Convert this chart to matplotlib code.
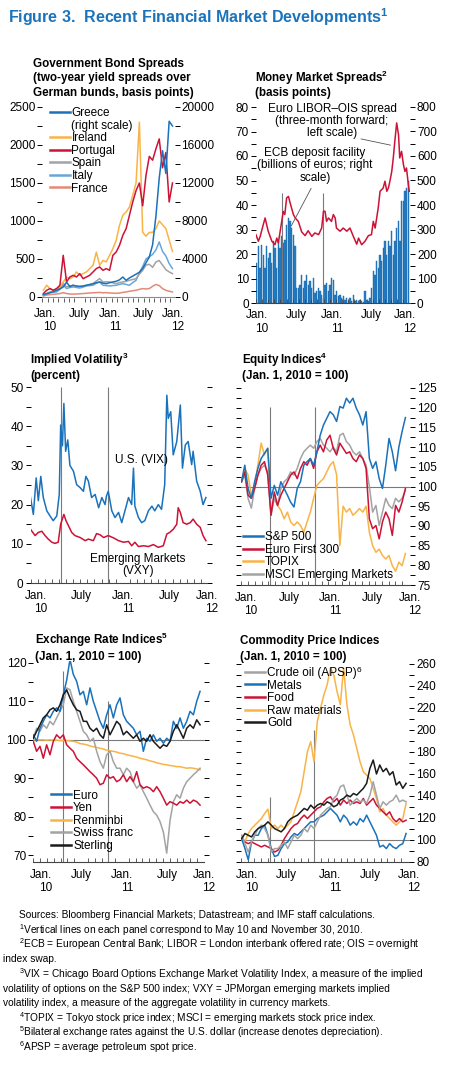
"""
Figure 3. Recent Financial Market Developments: six small time-series panels, Jan. 2010 - Jan. 2012.
"""
import numpy as np
import matplotlib
matplotlib.use("Agg")
import matplotlib.pyplot as plt
from matplotlib.lines import Line2D

plt.rcParams["font.family"] = ["Liberation Sans", "DejaVu Sans"]
plt.rcParams["mathtext.fontset"] = "custom"
plt.rcParams["mathtext.rm"] = "Liberation Sans"
plt.rcParams["mathtext.it"] = "Liberation Sans:italic"
plt.rcParams["mathtext.bf"] = "Liberation Sans:bold"

FIG_W, FIG_H = 450, 1065

BLUE = "#1a72bb"
RED = "#cc1236"
ORANGE = "#f9b347"
GRAY = "#a3a3a3"
LIGHT_BLUE = "#6aa5da"
SALMON = "#e38a79"
BLACK = "#1a1a1a"
TITLE_BLUE = "#1b74bb"


def Sup(n):
    return r"$\mathregular{^{%s}}$" % n


MONTH_LABELS = ["Jan.\n10", "July", "Jan.\n11", "July", "Jan.\n12"]
# months since Jan. 1, 2010: May 10 and November 30, 2010
EVENT_MONTHS = [4.3, 10.97]

# --- Government bond spreads (basis points); Greece on the right scale
bond_months = np.linspace(0.2, 24.4, 40)
greece = [250, 350, 450, 550, 700, 850, 1050, 1550, 1100, 1230,
          1150, 1120, 1150, 1230, 1300, 1400, 1500, 1580, 1450, 1400,
          1500, 1580, 1650, 1800, 2100, 1750, 2000, 2200, 2400, 2600,
          3000, 3600, 4200, 5500, 8500, 12500, 15400, 13000, 18500, 18000]
ireland = [88, 154, 110, 88, 110, 132, 197, 260, 241, 263,
           329, 285, 307, 329, 373, 417, 590, 417, 482, 461,
           548, 636, 746, 943, 1075, 1118, 1184, 1338, 1500, 2300,
           850, 800, 850, 850, 900, 1000, 950, 900, 750, 600]
portugal = [44, 88, 110, 88, 110, 154, 548, 197, 263, 285,
            263, 307, 241, 263, 285, 329, 373, 395, 351, 373,
            351, 548, 592, 680, 811, 899, 1075, 1250, 1400, 1500,
            1200, 1600, 1850, 1800, 1950, 2080, 1700, 1900, 1250, 1500]
spain = [22, 45, 66, 75, 88, 120, 180, 132, 145, 154,
         140, 132, 145, 154, 165, 175, 210, 241, 197, 200,
         197, 185, 175, 190, 197, 205, 219, 230, 241, 300,
         350, 420, 430, 390, 460, 480, 420, 360, 330, 307]
italy = [22, 40, 57, 62, 66, 100, 160, 110, 125, 132,
         125, 118, 130, 145, 150, 154, 180, 197, 154, 150,
         145, 150, 154, 165, 175, 165, 154, 190, 219, 320,
         400, 500, 530, 560, 620, 724, 600, 540, 440, 373]
france = [13, 25, 31, 35, 39, 45, 57, 45, 39, 38,
          39, 42, 45, 48, 52, 55, 57, 60, 55, 57,
          52, 50, 48, 52, 60, 66, 75, 82, 88, 100,
          110, 105, 110, 140, 165, 150, 110, 88, 75, 66]

# --- Money market spreads
libor_months = [0.0, 0.4, 0.7, 1.2, 1.5, 1.75, 2.0, 2.6, 3.1, 3.4,
                3.65, 4.2, 4.45, 4.7, 5.0, 5.3, 5.5, 5.8, 6.1, 6.4,
                6.9, 7.45, 8.0, 8.5, 9.1, 9.6, 10.2, 10.7, 11.0, 11.25,
                11.5, 11.8, 12.3, 12.6, 12.9, 13.1, 13.7, 14.2, 14.8, 15.3,
                15.85, 16.4, 16.7, 17.2, 17.75, 18.3, 18.8, 19.1, 19.4, 19.9,
                20.2, 20.7, 21.0, 21.3, 21.55, 21.8, 22.1, 22.35, 22.6, 22.9,
                23.2, 23.4, 23.7, 24.0, 24.25, 24.5, 24.8, 24.95]
libor_ois = [27.9, 25.2, 27.2, 32.0, 34.7, 32.0, 29.3, 25.2, 23.8, 26.5,
             24.5, 33.3, 37.4, 36.1, 42.9, 43.5, 41.5, 38.8, 36.1, 34.7,
             33.3, 29.0, 27.5, 29.5, 27.2, 28.6, 27.9, 30.6, 37.5, 37.4,
             33.3, 34.7, 33.3, 36.1, 34.7, 30.6, 29.3, 30.6, 29.3, 30.6,
             27.2, 24.0, 26.5, 23.8, 25.2, 27.5, 27.9, 33.3, 30.6, 38.8,
             45.6, 46.9, 49.7, 45.6, 46.9, 49.7, 53.7, 59.2, 66.0, 73.5,
             68.7, 59.2, 61.9, 56.5, 53.7, 55.1, 48.3, 45.6]
ecb_months = np.linspace(0.125, 24.8, 92)
ecb_deposit = [163, 231, 143, 238, 197, 143, 231, 184, 204, 163,
               252, 224, 143, 252, 224, 272, 245, 259, 320, 347,
               333, 306, 279, 231, 61, 61, 75, 116, 61, 88,
               116, 75, 88, 61, 102, 41, 48, 61, 48, 34,
               20, 75, 82, 48, 75, 102, 95, 34, 48, 27,
               34, 20, 27, 14, 20, 7, 20, 7, 34, 7,
               14, 7, 14, 7, 3, 48, 14, 7, 20, 61,
               129, 116, 170, 143, 197, 170, 224, 252, 197, 252,
               231, 293, 197, 252, 306, 333, 252, 415, 415, 456,
               469, 497]

# --- Implied volatility (percent)
vix_months = [0.0, 0.4, 0.8, 1.1, 1.45, 1.8, 2.3, 2.75, 3.2, 3.7,
              4.05, 4.25, 4.5, 4.7, 4.95, 5.25, 5.55, 6.05, 6.5, 7.0,
              7.45, 7.8, 8.15, 8.6, 9.1, 9.6, 10.05, 10.5, 10.7, 10.95,
              11.45, 11.9, 12.4, 12.85, 13.3, 13.8, 14.25, 14.5, 14.7, 15.2,
              15.65, 16.1, 16.6, 17.1, 17.5, 18.0, 18.45, 18.9, 19.2, 19.4,
              19.75, 20.1, 20.6, 21.1, 21.4, 21.8, 22.2, 22.7, 22.9, 23.4,
              23.9, 24.3, 24.7]
vix = [21.8, 17.5, 26.8, 21.0, 27.2, 21.8, 18.4, 17.1, 15.9, 17.1,
       22.6, 40.3, 35.0, 45.8, 33.6, 36.5, 30.0, 28.5, 25.1, 24.3,
       23.4, 27.2, 26.0, 21.8, 22.6, 19.2, 21.8, 20.0, 22.2, 23.4,
       18.4, 16.7, 18.0, 15.4, 18.4, 21.8, 20.0, 29.3, 19.6, 16.7,
       15.4, 15.9, 18.4, 19.6, 18.4, 20.0, 18.8, 25.1, 47.9, 42.0,
       43.7, 32.7, 36.1, 45.4, 29.3, 35.2, 36.1, 30.2, 33.6, 26.0,
       23.4, 20.0, 21.8]
vxy_months = [0.0, 0.65, 1.1, 1.6, 2.05, 2.5, 3.0, 3.45, 3.9, 4.25,
              4.7, 5.0, 5.35, 5.8, 6.25, 7.0, 7.7, 8.15, 8.85, 9.3,
              9.8, 10.3, 10.95, 11.7, 12.4, 13.1, 13.8, 14.25, 14.7, 15.2,
              15.9, 16.6, 17.3, 18.0, 18.7, 19.2, 19.6, 20.1, 20.6, 20.8,
              21.1, 21.5, 22.0, 22.5, 22.9, 23.4, 23.9, 24.3, 24.7]
vxy = [13.7, 12.1, 12.9, 13.2, 12.1, 11.2, 10.4, 10.1, 10.4, 15.0,
       17.5, 15.9, 14.6, 12.9, 12.1, 11.6, 10.8, 11.2, 10.8, 12.6,
       12.3, 11.6, 12.1, 11.5, 10.8, 10.4, 10.6, 9.5, 10.4, 9.3,
       9.5, 9.3, 9.8, 9.1, 9.5, 12.5, 12.9, 13.7, 15.0, 19.2,
       18.0, 15.4, 15.0, 15.4, 16.3, 15.0, 14.2, 12.1, 10.8]

# --- Equity indices (Jan. 1, 2010 = 100)
equity_months = np.linspace(0.0, 24.5, 51)
sp500 = [101.2, 105.4, 99.5, 97.0, 101.2, 104.6, 107.1, 108.4, 109.7, 97.0,
         100.3, 97.8, 101.2, 99.5, 97.8, 96.0, 94.8, 99.5, 101.2, 105.4,
         106.3, 107.1, 105.4, 108.8, 113.0, 115.6, 117.3, 119.0, 118.2, 116.5,
         120.3, 119.9, 122.4, 121.2, 122.4, 119.9, 118.2, 115.6, 119.0, 107.1,
         104.6, 106.3, 102.0, 99.5, 105.4, 112.2, 108.8, 104.0, 110.0, 114.0,
         117.5]
euro_first300 = [101.2, 103.7, 97.8, 97.0, 99.5, 102.9, 105.4, 106.3, 102.9, 92.7,
                 98.6, 95.2, 97.8, 99.5, 101.2, 102.9, 103.7, 102.0, 104.6, 106.3,
                 105.4, 107.1, 104.6, 108.8, 110.5, 108.8, 111.8, 113.0, 109.7, 108.0,
                 111.0, 109.7, 108.4, 108.8, 107.1, 106.3, 108.0, 107.1, 104.6, 91.8,
                 89.3, 90.1, 86.7, 91.0, 93.5, 91.8, 87.6, 95.2, 93.5, 96.1,
                 99.5]
topix = [101.2, 104.6, 102.9, 97.8, 100.3, 105.4, 111.0, 108.0, 109.7, 93.5,
         97.0, 95.2, 94.0, 91.8, 93.5, 91.0, 90.1, 91.0, 90.1, 88.4,
         91.0, 93.5, 97.0, 100.3, 101.2, 102.0, 103.7, 105.4, 106.3, 103.0,
         85.0, 95.0, 93.5, 94.4, 92.7, 93.5, 94.4, 93.5, 95.0, 88.4,
         85.0, 83.3, 84.1, 82.5, 81.6, 82.5, 79.9, 78.5, 80.8, 79.9,
         83.0]
msci_em = [101.2, 102.9, 97.0, 94.5, 99.5, 102.9, 104.6, 105.4, 103.7, 92.7,
           97.0, 95.2, 99.5, 101.2, 102.0, 103.7, 102.9, 104.6, 107.1, 108.8,
           109.7, 110.5, 109.7, 111.4, 112.2, 110.5, 109.7, 108.8, 110.0, 108.8,
           113.0, 113.5, 111.4, 110.5, 108.8, 108.0, 108.8, 107.1, 105.4, 100.0,
           93.5, 95.2, 90.1, 93.5, 97.0, 95.2, 94.4, 97.0, 96.1, 97.0,
           99.0]

# --- Exchange rate indices (Jan. 1, 2010 = 100)
fx_months = np.linspace(0.0, 24.45, 51)
euro = [101.3, 99.6, 103.0, 104.8, 106.5, 105.7, 107.4, 108.3, 107.4, 111.7,
        115.5, 120.9, 117.0, 115.2, 111.7, 112.6, 109.1, 113.5, 110.0, 107.4,
        104.8, 103.0, 106.5, 109.1, 105.7, 109.1, 110.9, 106.5, 104.8, 103.9,
        103.0, 101.3, 102.2, 97.0, 100.4, 99.6, 101.3, 99.6, 100.4, 99.1,
        100.4, 99.6, 104.8, 103.0, 105.7, 103.0, 104.8, 107.4, 106.5, 110.0,
        112.6]
yen = [99.6, 97.0, 98.3, 95.2, 98.7, 96.1, 99.6, 101.3, 100.4, 101.3,
       98.7, 97.8, 97.0, 95.2, 94.3, 93.5, 92.6, 91.7, 90.9, 90.0,
       88.3, 88.7, 90.9, 90.0, 90.4, 89.1, 89.6, 90.9, 89.1, 90.4,
       89.1, 91.7, 88.3, 87.4, 87.8, 87.4, 86.5, 87.8, 86.5, 84.8,
       83.0, 83.9, 83.5, 83.0, 83.9, 83.5, 84.3, 83.5, 84.3, 83.9,
       83.0]
renminbi = [100.0, 100.0, 100.0, 100.0, 99.9, 100.0, 99.9, 99.9, 99.8, 99.8,
            99.8, 99.7, 99.6, 99.4, 99.0, 98.9, 98.7, 98.4, 98.2, 98.0,
            97.8, 97.6, 97.3, 97.1, 97.0, 96.8, 96.5, 96.4, 96.1, 95.9,
            95.7, 95.5, 95.2, 95.0, 94.8, 94.5, 94.3, 94.0, 93.8, 93.6,
            93.5, 93.3, 93.2, 93.0, 93.0, 92.8, 92.6, 92.7, 92.6, 92.4,
            92.2]
swiss_franc = [100.4, 103.0, 102.2, 103.9, 103.0, 104.8, 103.9, 105.7, 107.4, 109.1,
               113.5, 113.0, 110.0, 107.4, 104.8, 102.2, 101.3, 99.6, 100.4, 97.0,
               94.3, 92.6, 96.1, 97.0, 94.3, 92.6, 92.6, 90.9, 92.6, 91.7,
               89.1, 87.4, 88.3, 86.5, 84.8, 83.0, 81.3, 80.4, 78.7, 76.0,
               70.5, 79.0, 83.9, 85.7, 84.8, 87.4, 89.1, 90.0, 90.9, 91.7,
               92.6]
sterling = [100.4, 102.2, 103.9, 105.7, 106.5, 107.8, 108.3, 107.4, 109.1, 111.7,
            113.0, 110.9, 109.1, 107.8, 107.4, 104.8, 104.8, 103.0, 102.2, 103.0,
            101.3, 100.4, 103.9, 101.3, 103.0, 104.8, 103.9, 101.3, 102.2, 101.3,
            100.4, 101.3, 99.6, 100.4, 99.6, 101.3, 99.6, 98.7, 97.8, 98.7,
            98.3, 99.6, 102.2, 103.9, 102.2, 100.4, 103.0, 103.9, 103.0, 105.2,
            103.9]

# --- Commodity price indices (Jan. 1, 2010 = 100)
commodity_months = np.linspace(0.1, 24.8, 51)
crude_oil = [104.3, 96.7, 89.1, 98.2, 104.3, 110.4, 113.5, 110.4, 104.3, 89.1,
             92.2, 92.2, 95.2, 98.2, 92.2, 98.2, 104.3, 101.3, 104.3, 110.4,
             107.4, 113.5, 110.4, 116.5, 122.6, 125.6, 128.7, 130.2, 137.8, 140.8,
             148.4, 150.0, 140.8, 131.7, 134.7, 137.8, 134.7, 136.3, 133.2, 140.8,
             153.0, 140.8, 128.7, 134.7, 131.7, 134.7, 136.3, 140.8, 134.7, 136.3,
             134.7]
metals = [101.3, 92.2, 82.0, 98.2, 104.3, 104.3, 110.4, 113.5, 104.3, 92.2,
          85.0, 86.1, 92.2, 96.7, 98.2, 102.8, 105.9, 104.3, 107.4, 110.4,
          113.5, 116.5, 116.5, 119.5, 121.1, 122.6, 125.6, 128.7, 125.6, 122.6,
          116.5, 122.6, 119.5, 113.5, 116.5, 113.5, 119.5, 116.5, 122.6, 116.5,
          110.4, 104.3, 93.7, 95.2, 92.2, 96.7, 93.7, 92.2, 95.2, 96.7,
          105.9]
food = [101.3, 98.2, 96.7, 98.2, 96.7, 95.2, 93.7, 95.2, 93.7, 92.2,
        89.1, 90.6, 95.2, 101.3, 105.9, 110.4, 113.5, 115.0, 119.5, 122.6,
        119.5, 122.6, 125.6, 128.7, 130.2, 134.7, 137.8, 139.3, 134.7, 137.8,
        131.7, 136.3, 133.2, 136.3, 133.2, 134.7, 133.2, 137.8, 131.7, 134.7,
        137.8, 131.7, 128.7, 125.6, 122.6, 125.6, 119.5, 116.5, 119.5, 116.5,
        118.0]
raw_materials = [104.3, 98.2, 105.9, 110.4, 113.5, 116.5, 119.5, 124.1, 128.0, 110.4,
                 113.5, 110.4, 113.5, 110.4, 113.5, 116.5, 125.6, 134.7, 143.9, 162.1,
                 180.3, 189.5, 171.2, 207.7, 219.9, 232.0, 241.1, 256.4, 250.3, 235.1,
                 223.0, 256.4, 223.0, 204.7, 195.5, 183.4, 171.2, 162.1, 159.1, 156.0,
                 146.9, 137.8, 125.6, 128.7, 122.6, 119.5, 116.5, 113.5, 116.5, 119.5,
                 133.2]
gold = [101.3, 105.9, 104.3, 102.8, 107.4, 110.4, 112.0, 113.5, 116.5, 113.5,
        110.4, 108.9, 107.4, 110.4, 116.5, 119.5, 121.1, 122.6, 125.6, 128.7,
        127.1, 131.7, 128.7, 131.7, 133.2, 131.7, 134.7, 133.2, 130.2, 131.7,
        136.3, 137.8, 140.8, 139.3, 142.3, 140.8, 143.9, 146.9, 151.5, 165.1,
        172.7, 160.0, 168.2, 162.1, 165.1, 159.1, 162.1, 150.0, 153.0, 146.9,
        151.5]

FOOTNOTES = [
    (19, "Sources: Bloomberg Financial Markets; Datastream; and IMF staff calculations."),
    (19, Sup(1) + "Vertical lines on each panel correspond to May 10 and November 30, 2010."),
    (19, Sup(2) + "ECB = European Central Bank; LIBOR = London interbank offered rate; OIS = overnight"),
    (3, "index swap."),
    (19, Sup(3) + "VIX = Chicago Board Options Exchange Market Volatility Index, a measure of the implied"),
    (3, "volatility of options on the S&P 500 index; VXY = JPMorgan emerging markets implied"),
    (3, "volatility index, a measure of the aggregate volatility in currency markets."),
    (19, Sup(4) + "TOPIX = Tokyo stock price index; MSCI = emerging markets stock price index."),
    (19, Sup(5) + "Bilateral exchange rates against the U.S. dollar (increase denotes depreciation)."),
    (19, Sup(6) + "APSP = average petroleum spot price."),
]

TICK_FS = 8.5
LW = 1.1


def MakeAxes(fig, box, xmax, ylim, labelPos, pad=5):
    left, top, right, bottom = box
    ax = fig.add_axes([left / FIG_W, 1 - bottom / FIG_H, (right - left) / FIG_W, (bottom - top) / FIG_H])
    ax.set_xlim(0, xmax)
    ax.set_ylim(*ylim)
    ax.patch.set_alpha(0)
    for side in ("top", "left", "right"):
        ax.spines[side].set_visible(False)
    ax.spines["bottom"].set_color("#444444")
    ax.spines["bottom"].set_linewidth(0.8)
    ax.set_xticks(range(0, 25), minor=True)
    ax.set_xticks(labelPos)
    ax.set_xticklabels(MONTH_LABELS, fontsize=TICK_FS, linespacing=1.15)
    for lbl in ax.get_xticklabels():
        lbl.set_multialignment("right")
    ax.tick_params(axis="x", which="minor", direction="in", length=3, width=0.6, color="#444444")
    ax.tick_params(axis="x", which="major", length=0, pad=pad)
    return ax


def SetYTicks(ax, major, minor, labelLeft, labelRight):
    ax.set_yticks(major)
    ax.set_yticks(minor, minor=True)
    ax.tick_params(axis="y", which="both", direction="out", length=3.5, width=0.7,
                   left=True, right=True, labelleft=labelLeft, labelright=labelRight,
                   labelsize=TICK_FS, pad=1.5)


def RightScale(ax, ylim, major, minor):
    axr = ax.twinx()
    axr.set_ylim(*ylim)
    for side in ("top", "left", "right", "bottom"):
        axr.spines[side].set_visible(False)
    axr.set_yticks(major)
    axr.set_yticks(minor, minor=True)
    axr.tick_params(axis="y", which="both", direction="out", length=3.5, width=0.7,
                    labelsize=TICK_FS, pad=1.5)
    return axr


def PanelTitle(fig, x, ys, lines):
    # one text per line so a superscript does not stretch the line spacing
    for y, line in zip(ys, lines):
        fig.text(x / FIG_W, 1 - (y + 4) / FIG_H, line, fontsize=8.4, fontweight="bold",
                 va="baseline", ha="left")


def Legend(ax, handles, labels, loc, anchor):
    return ax.legend(handles, labels, loc=loc, bbox_to_anchor=anchor, frameon=False,
                     fontsize=TICK_FS, handlelength=1.7, handletextpad=0.15,
                     labelspacing=0.05, borderpad=0, borderaxespad=0)


def Handle(color):
    return Line2D([], [], color=color, lw=1.8)


fig = plt.figure(figsize=(FIG_W / 100, FIG_H / 100), dpi=100)

fig.text(8 / FIG_W, 1 - 17 / FIG_H, "Figure 3.  Recent Financial Market Developments" + Sup(1),
         fontsize=11.5, fontweight="bold", color=TITLE_BLUE, va="center", ha="left")

# ---------------- Government bond spreads
ax1 = MakeAxes(fig, (42.3, 107, 174.6, 301.9), 24.8, (-65, 2500), [0.5, 7.0, 12.7, 18.9, 24.5], pad=4.5)
ax1.spines["bottom"].set_visible(False)
SetYTicks(ax1, range(0, 2501, 500), range(250, 2500, 500), True, False)
ax1.tick_params(axis="y", right=False, which="both")
ax1.axhline(0, color="#8c8c8c", lw=0.8)
ax1.plot(bond_months, france, color=SALMON, lw=LW)
ax1.plot(bond_months, italy, color=LIGHT_BLUE, lw=LW)
ax1.plot(bond_months, spain, color=GRAY, lw=LW)
ax1.plot(bond_months, ireland, color=ORANGE, lw=LW)
ax1.plot(bond_months, portugal, color=RED, lw=LW)
ax1r = RightScale(ax1, (-520, 20000), range(0, 20001, 4000), range(2000, 20000, 4000))
ax1r.plot(bond_months, greece, color=BLUE, lw=LW)
Legend(ax1, [Handle(BLUE), Handle("none"), Handle(ORANGE), Handle(RED), Handle(GRAY),
             Handle(LIGHT_BLUE), Handle(SALMON)],
       ["Greece", "(right scale)", "Ireland", "Portugal", "Spain", "Italy", "France"],
       "upper left", (0.055, 1.0))
PanelTitle(fig, 33, [63, 77.5, 92], ["Government Bond Spreads", "(two-year yield spreads over",
                                     "German bunds, basis points)"])

# ---------------- Money market spreads
ax2 = MakeAxes(fig, (255.9, 107, 410, 303), 25.07, (0, 80), [0.2, 6.6, 12.4, 18.8, 24.3], pad=4.5)
SetYTicks(ax2, range(0, 81, 10), range(5, 80, 10), True, False)
ax2.tick_params(axis="y", right=False, which="both")
ax2r = RightScale(ax2, (0, 800), range(0, 801, 100), range(50, 800, 100))
ax2r.bar(ecb_months, ecb_deposit, width=0.24, color="#2a80c6", edgecolor="#1565a8", linewidth=0.3)
ax2.set_zorder(ax2r.get_zorder() + 1)
ax2.vlines(EVENT_MONTHS, 0, 45, color="#7a7a7a", lw=0.8)
ax2.plot(libor_months, libor_ois, color=RED, lw=LW)
ax2.text(12.4, 74.3, "Euro LIBOR\u2013OIS spread\n(three-month forward;\nleft scale)",
         ha="center", va="center", fontsize=TICK_FS, linespacing=1.05)
ax2.annotate("", xy=(22.35, 64.2), xytext=(16.66, 67.2),
             arrowprops=dict(arrowstyle="-", lw=0.6, color="#555555"))
ax2.text(9.6, 56.3, "ECB deposit facility\n(billions of euros; right\nscale)",
         ha="center", va="center", fontsize=TICK_FS, linespacing=1.05)
ax2.annotate("", xy=(5.55, 30.5), xytext=(9.2, 47.8),
             arrowprops=dict(arrowstyle="-", lw=0.6, color="#555555"))
PanelTitle(fig, 255, [78, 92], ["Money Market Spreads" + Sup(2), "(basis points)"])

# ---------------- Implied volatility
ax3 = MakeAxes(fig, (30.5, 387, 206.6, 583), 24.8, (0, 50), [0.8, 7.2, 13.0, 19.5, 24.8])
SetYTicks(ax3, range(0, 51, 10), range(5, 50, 10), True, False)
ax3.vlines(EVENT_MONTHS, 0, 50, color="#7a7a7a", lw=0.8)
ax3.plot(vxy_months, vxy, color=RED, lw=LW)
ax3.plot(vix_months, vix, color=BLUE, lw=LW)
ax3.text(15.7, 31.4, "U.S. (VIX)", ha="center", va="center", fontsize=TICK_FS)
ax3.text(15.1, 4.6, "Emerging Markets\n(VXY)", ha="center", va="center", fontsize=TICK_FS,
         linespacing=1.05)
PanelTitle(fig, 30, [360, 375], ["Implied Volatility" + Sup(3), "(percent)"])

# ---------------- Equity indices
ax4 = MakeAxes(fig, (241.5, 388, 410.1, 585), 24.8, (75, 125), [0.7, 7.2, 13.2, 19.5, 25.2])
SetYTicks(ax4, range(75, 126, 5), np.arange(77.5, 125, 5), False, True)
ax4.axhline(100, color="#7a7a7a", lw=0.8)
ax4.vlines(EVENT_MONTHS, 75, 120.3, color="#7a7a7a", lw=0.8)
ax4.plot(equity_months, topix, color=ORANGE, lw=LW)
ax4.plot(equity_months, msci_em, color=GRAY, lw=LW)
ax4.plot(equity_months, euro_first300, color=RED, lw=LW)
ax4.plot(equity_months, sp500, color=BLUE, lw=LW)
Legend(ax4, [Handle(BLUE), Handle(RED), Handle(ORANGE), Handle(GRAY)],
       ["S&P 500", "Euro First 300", "TOPIX", "MSCI Emerging Markets"],
       "lower left", (0.01, 0.02))
PanelTitle(fig, 242, [360, 375], ["Equity Indices" + Sup(4), "(Jan. 1, 2010 = 100)"])

# ---------------- Exchange rate indices
ax5 = MakeAxes(fig, (33.3, 661, 203.8, 862), 25.0, (68.2, 120.5), [1.2, 7.0, 13.0, 19.6, 25.0])
SetYTicks(ax5, range(70, 121, 10), range(75, 120, 10), True, False)
ax5.axhline(100, color="#7a7a7a", lw=0.8)
ax5.vlines(EVENT_MONTHS[0], 68.2, 118, color="#7a7a7a", lw=0.8)
ax5.vlines(EVENT_MONTHS[1], 68.2, 110, color="#7a7a7a", lw=0.8)
ax5.plot(fx_months, renminbi, color=ORANGE, lw=LW)
ax5.plot(fx_months, swiss_franc, color=GRAY, lw=LW)
ax5.plot(fx_months, yen, color=RED, lw=LW)
ax5.plot(fx_months, euro, color=BLUE, lw=LW)
ax5.plot(fx_months, sterling, color=BLACK, lw=LW)
Legend(ax5, [Handle(BLUE), Handle(RED), Handle(ORANGE), Handle(GRAY), Handle(BLACK)],
       ["Euro", "Yen", "Renminbi", "Swiss franc", "Sterling"],
       "lower left", (0.105, 0.05))
PanelTitle(fig, 35, [640, 656], ["Exchange Rate Indices" + Sup(5), "(Jan. 1, 2010 = 100)"])

# ---------------- Commodity price indices
ax6 = MakeAxes(fig, (241, 664, 409.4, 862), 24.9, (80, 260), [0.9, 6.8, 13.4, 19.4, 25.3])
SetYTicks(ax6, range(80, 261, 20), range(90, 260, 20), False, True)
ax6.axhline(100, color="#7a7a7a", lw=0.8)
ax6.vlines(EVENT_MONTHS[0], 80, 139, color="#7a7a7a", lw=0.8)
ax6.vlines(EVENT_MONTHS[1], 80, 200, color="#7a7a7a", lw=0.8)
ax6.plot(commodity_months, raw_materials, color=ORANGE, lw=LW)
ax6.plot(commodity_months, food, color=RED, lw=LW)
ax6.plot(commodity_months, metals, color=BLUE, lw=LW)
ax6.plot(commodity_months, crude_oil, color=GRAY, lw=LW)
ax6.plot(commodity_months, gold, color=BLACK, lw=LW)
leg6 = Legend(ax6, [Handle(GRAY), Handle(BLUE), Handle(RED), Handle(ORANGE), Handle(BLACK)],
              ["Crude oil (APSP)", "Metals", "Food", "Raw materials", "Gold"],
              "upper left", (0.024, 0.985))
PanelTitle(fig, 240, [640, 656], ["Commodity Price Indices", "(Jan. 1, 2010 = 100)"])

# superscript after the crude oil legend entry, placed from its measured extent
fig.canvas.draw()
crudeBox = leg6.get_texts()[0].get_window_extent()
fig.text((crudeBox.x1 + 0.3) / FIG_W, (crudeBox.y1 - 0.5) / FIG_H, "6", fontsize=6,
         va="top", ha="left")

# ---------------- footnotes
for i, (x, line) in enumerate(FOOTNOTES):
    fig.text(x / FIG_W, 1 - (915 + i * 14.7) / FIG_H, line, fontsize=7.3, va="center", ha="left")

fig.savefig("out.png", dpi=100)
